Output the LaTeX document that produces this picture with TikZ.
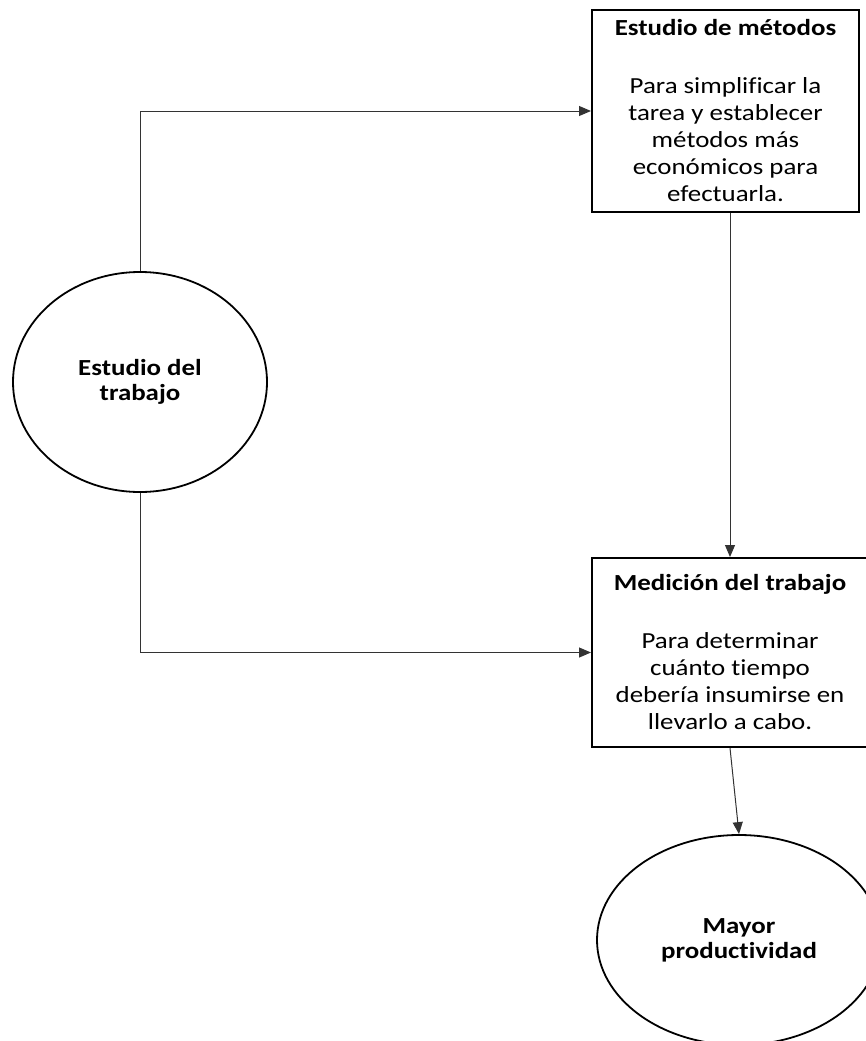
\documentclass[tikz,border=0pt]{standalone}
\usepackage{fontspec}
\setmainfont{Carlito}[FakeStretch=1.17, Ligatures=NoCommon]
\usetikzlibrary{arrows.meta,shapes.geometric}

\tikzset{
	caja/.style={draw, line width=2pt, inner sep=0pt, align=center},
	elipse/.style={draw, ellipse, line width=1.8pt, inner sep=0pt, align=center,
		font=\fontsize{23}{25}\selectfont\bfseries},
	flecha/.style={draw=black!80, line width=1pt, -{Triangle[length=12pt,width=10pt]}}
}

\begin{document}
\begin{tikzpicture}[x=1pt, y=-1pt, font=\fontsize{23}{27}\selectfont]
\useasboundingbox (0,0) rectangle (865,1041);

\pgfmathsetmacro{\kjIzq}{140}
\pgfmathsetmacro{\kjDer}{730}

\node[elipse, minimum width=254pt, minimum height=220pt] (trabajo) at (\kjIzq,382) {Estudio del\\trabajo};

\node[caja, minimum width=267pt, minimum height=201pt] (metodos) at (725.5,111)
	{\textbf{Estudio de métodos}\\[31pt]Para simplificar la\\tarea y establecer\\métodos más\\económicos para\\efectuarla.};

\node[caja, minimum width=276pt, minimum height=189pt] (medicion) at (\kjDer,652.5)
	{\textbf{Medición del trabajo}\\[31pt]Para determinar\\cuánto tiempo\\debería insumirse en\\llevarlo a cabo.};

\node[elipse, minimum width=284pt, minimum height=210pt] (productividad) at (739,940) {Mayor\\productividad};

\draw[flecha] (trabajo.north) |- (metodos.west);
\draw[flecha] (trabajo.south) |- (medicion.west);
\draw[flecha] (metodos.south -| medicion.north) -- (medicion.north);
\draw[flecha] (medicion.south) -- (productividad.north);
\end{tikzpicture}
\end{document}
